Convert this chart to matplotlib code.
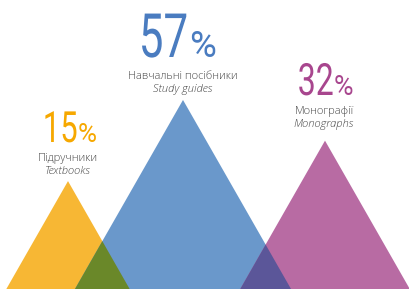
"""
Share of publication types, drawn as overlapping triangles.
"""

import matplotlib
matplotlib.use("Agg")
import matplotlib.pyplot as plt
from matplotlib.patches import Polygon
from matplotlib.patheffects import AbstractPathEffect
from matplotlib.transforms import Affine2D

labels_ua = ["Підручники", "Навчальні посібники", "Монографії"]
labels_en = ["Textbooks", "Study guides", "Monographs"]
shares = [15, 57, 32]

# layout (pixel space, y grows downward)
W, H = 410, 289
centers = [68, 183, 325]
tri_colors = ["#F7B734", "#6A98CB", "#B86BA3"]
num_colors = ["#F6A800", "#4A7CC0", "#A8468E"]
overlap_colors = {(0, 1): "#6A8829", (1, 2): "#5B5699"}
num_sizes = [31, 44, 32]
num_baselines = [142, 57, 95]
split_x = [78, 189, 334]
label_x = [68, 183, 324]
label_gap = [19, 22, 19]


class Squeeze(AbstractPathEffect):
    """Narrow the glyphs horizontally, keeping the right edge fixed."""

    def __init__(self, sx):
        super().__init__()
        self.sx = sx

    def draw_path(self, renderer, gc, tpath, affine, rgbFace=None):
        x1 = tpath.get_extents(affine).x1
        squeeze = Affine2D().translate(-x1, 0).scale(self.sx, 1).translate(x1, 0)
        renderer.draw_path(gc, tpath, affine + squeeze, rgbFace)


fig = plt.figure(figsize=(W / 100, H / 100), dpi=100)
ax = fig.add_axes([0, 0, 1, 1])
ax.set_xlim(0, W)
ax.set_ylim(H, 0)
ax.axis("off")

patches = []
for i, v in enumerate(shares):
    h = 34.6 * v ** 0.42          # triangle height grows with the share
    hw = h / 1.75
    cx = centers[i]
    pts = [(cx - hw, H), (cx, H - h), (cx + hw, H)]
    p = Polygon(pts, closed=True, facecolor=tri_colors[i], edgecolor="none", zorder=1)
    ax.add_patch(p)
    patches.append((pts, p))

for (a, b), col in overlap_colors.items():
    ov = Polygon(patches[b][0], closed=True, facecolor=col, edgecolor="none", zorder=2)
    ax.add_patch(ov)
    ov.set_clip_path(patches[a][1])

for i, v in enumerate(shares):
    fs = num_sizes[i] / 1.389 / 0.72
    base = num_baselines[i]
    ax.text(split_x[i], base, str(v), ha="right", va="baseline", fontsize=fs,
            color=num_colors[i], family="Roboto", zorder=3,
            path_effects=[Squeeze(0.72)])
    ax.text(split_x[i], base, "%", ha="left", va="baseline", fontsize=fs * 0.6,
            color=num_colors[i], family="Roboto", zorder=3)
    g = label_gap[i]
    ax.text(label_x[i], base + g, labels_ua[i], ha="center", va="baseline", fontsize=8,
            color="#474747", family="Open Sans", fontweight="light", zorder=3)
    ax.text(label_x[i], base + g + 13, labels_en[i], ha="center", va="baseline", fontsize=8,
            color="#474747", family="Open Sans", fontweight="light", style="italic", zorder=3)

fig.savefig("out.png", dpi=100)
